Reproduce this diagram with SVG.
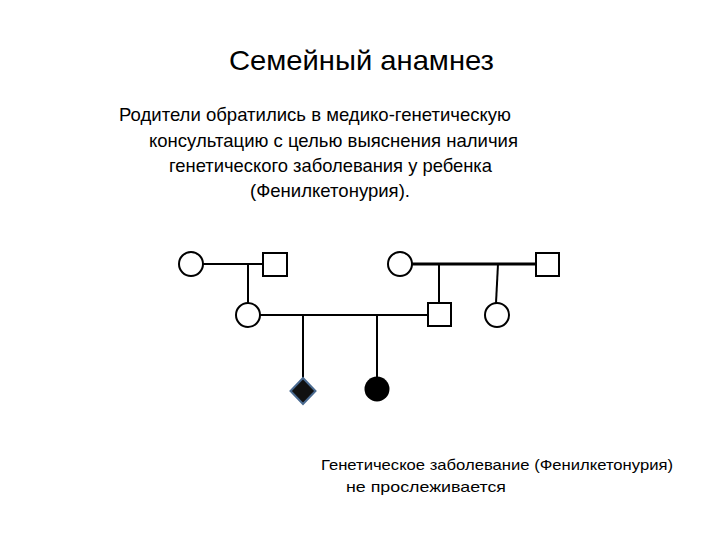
<svg xmlns="http://www.w3.org/2000/svg" width="720" height="540" viewBox="0 0 720 540">
<style>
.t{font-family:"Liberation Sans","Noto Sans",sans-serif;fill:#000}
.n{fill:#fff;stroke:#000;stroke-width:2}
.c line{stroke:#000;stroke-width:2}
</style>
<rect width="720" height="540" fill="#fff"/>
<text class="t" x="229" y="70" font-size="28" textLength="265" lengthAdjust="spacingAndGlyphs">Семейный анамнез</text>
<text class="t" x="119" y="121" font-size="18.5" textLength="392" lengthAdjust="spacingAndGlyphs">Родители обратились в медико-генетическую</text>
<text class="t" x="149" y="147" font-size="18.5" textLength="369" lengthAdjust="spacingAndGlyphs">консультацию с целью выяснения наличия</text>
<text class="t" x="169" y="172" font-size="18.5" textLength="323" lengthAdjust="spacingAndGlyphs">генетического заболевания у ребенка</text>
<text class="t" x="250" y="197" font-size="18.5" textLength="160" lengthAdjust="spacingAndGlyphs">(Фенилкетонурия).</text>
<text class="t" x="321" y="470" font-size="15" textLength="352" lengthAdjust="spacingAndGlyphs">Генетическое заболевание (Фенилкетонурия)</text>
<text class="t" x="346" y="492" font-size="15" textLength="160" lengthAdjust="spacingAndGlyphs">не прослеживается</text>
<g class="c" id="connectors">
<line x1="203" y1="264" x2="263" y2="264"/>
<line x1="248" y1="264" x2="248" y2="303"/>
<line x1="412" y1="264" x2="536" y2="264" style="stroke-width:3"/>
<line x1="439" y1="264" x2="439" y2="303"/>
<line x1="498" y1="264" x2="496" y2="303"/>
<line x1="260" y1="315" x2="428" y2="315"/>
<line x1="303" y1="315" x2="303" y2="378"/>
<line x1="377" y1="315" x2="377" y2="377"/>
</g>
<g id="gf1"><circle class="n" cx="191" cy="264" r="12"/></g>
<g id="gm1"><rect class="n" x="263" y="253" width="24" height="23"/></g>
<g id="gf2"><circle class="n" cx="400" cy="264" r="12"/></g>
<g id="gm2"><rect class="n" x="536" y="253" width="23" height="23"/></g>
<g id="mother"><circle class="n" cx="248" cy="315" r="12"/></g>
<g id="father"><rect class="n" x="428" y="303" width="23" height="23"/></g>
<g id="aunt"><circle class="n" cx="497" cy="315" r="12"/></g>
<g id="child"><polygon points="303,378 315.5,391 303,404 290.5,391" fill="#111" stroke="#4a6a90" stroke-width="2"/></g>
<g id="sibling"><circle cx="377" cy="389" r="12.5" fill="#000"/></g>
</svg>
